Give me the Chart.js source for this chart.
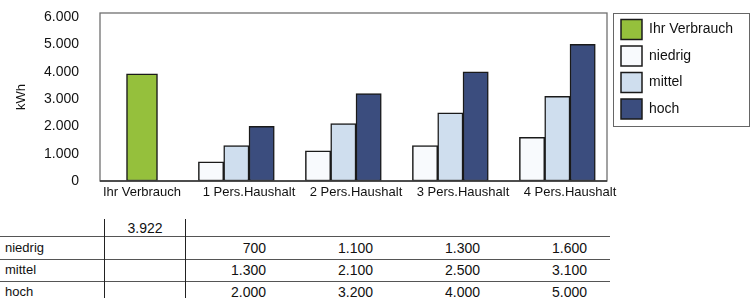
<!DOCTYPE html>
<html>
<head>
<meta charset="utf-8">
<script src="https://cdn.jsdelivr.net/npm/chart.js@4/dist/chart.umd.min.js"></script>
<style>
html,body{margin:0;padding:0;background:#fff;width:756px;height:298px;overflow:hidden;font-family:"Liberation Sans",Arial,sans-serif;}
#wrap{position:relative;width:756px;height:298px;}
#c{position:absolute;left:0;top:0;width:756px;height:200px;}
.t{position:absolute;font-size:13px;line-height:16px;height:16px;color:#111;white-space:nowrap;}
.t.num{font-size:14px;}
.hl{position:absolute;height:1px;background:#555;}
.vl{position:absolute;width:1px;background:#222;}
</style>
</head>
<body>
<div id="wrap">
  <canvas id="c" width="756" height="200"></canvas>
  <div id="tbl"></div>
</div>
<script>
// ---- data ----
const categories = ['Ihr Verbrauch', '1 Pers.Haushalt', '2 Pers.Haushalt', '3 Pers.Haushalt', '4 Pers.Haushalt'];
const ihrVerbrauch = [3922, null, null, null, null];
const niedrig = [null, 700, 1100, 1300, 1600];
const mittel = [null, 1300, 2100, 2500, 3100];
const hoch = [null, 2000, 3200, 4000, 5000];
const seriesNames = ['Ihr Verbrauch', 'niedrig', 'mittel', 'hoch'];
const yTickValues = [0, 1000, 2000, 3000, 4000, 5000, 6000];
const yUnit = 'kWh';

// ---- helpers / layout ----
const FONT = "'Liberation Sans', Arial, sans-serif";
const fmt = v => String(v).replace(/\B(?=(\d{3})+(?!\d))/g, '.');
const CAT0_PX = 42, CAT_STEP = 107;
const LEGEND_W = 129.3;

const catAxisLayout = {
  id: 'catAxisLayout',
  beforeLayout(chart) {
    const lg = chart.legend;
    if (lg && !lg._fixedW) {
      const f = lg.fit;
      lg.fit = function () { f.call(this); this.width = LEGEND_W; };
      lg._fixedW = true;
    }
  },
  afterLayout(chart) {
    const x = chart.scales.x;
    const w = x.right - x.left;
    x._valueRange = w / CAT_STEP;
    x._startValue = -CAT0_PX / CAT_STEP;
  }
};

const frames = {
  id: 'frames',
  afterDatasetsDraw(chart) {
    const ctx = chart.ctx, ca = chart.chartArea;
    ctx.save();
    ctx.strokeStyle = '#707070';
    ctx.lineWidth = 1.3;
    ctx.strokeRect(ca.left, ca.top, ca.right - ca.left, ca.bottom - ca.top);
    ctx.strokeStyle = '#333';
    ctx.lineWidth = 1.6;
    ctx.beginPath();
    ctx.moveTo(ca.left, ca.bottom);
    ctx.lineTo(ca.right, ca.bottom);
    ctx.stroke();
    ctx.restore();
  },
  afterDraw(chart) {
    const lg = chart.legend;
    const hb = lg && lg.legendHitBoxes;
    if (!hb || !hb.length) return;
    const pad = lg.options.labels.padding;
    const l = hb[0].left - 8, t = hb[0].top - pad;
    const r = lg.right + 5.2;
    const last = hb[hb.length - 1];
    const b = last.top + last.height + pad;
    const ctx = chart.ctx;
    ctx.save();
    ctx.strokeStyle = '#666';
    ctx.lineWidth = 1;
    ctx.strokeRect(Math.round(l) + 0.5, Math.round(t) + 0.5, Math.round(r - l), Math.round(b - t));
    ctx.restore();
  }
};

const barBorder = '#1a1a1a';
const chart = new Chart(document.getElementById('c'), {
  type: 'bar',
  data: {
    labels: categories,
    datasets: [
      { label: seriesNames[0], data: ihrVerbrauch, backgroundColor: '#95c03c', borderColor: barBorder, borderWidth: 1.5, borderSkipped: false, grouped: false, barThickness: 31 },
      { label: seriesNames[1], data: niedrig, backgroundColor: '#f8fafd', borderColor: barBorder, borderWidth: 1.5, borderSkipped: false, barThickness: 25.3 },
      { label: seriesNames[2], data: mittel, backgroundColor: '#cfdeee', borderColor: barBorder, borderWidth: 1.5, borderSkipped: false, barThickness: 25.3 },
      { label: seriesNames[3], data: hoch, backgroundColor: '#3b4d7e', borderColor: barBorder, borderWidth: 1.5, borderSkipped: false, barThickness: 25.3 },
      { label: '', data: [null, null, null, null, null], barThickness: 25.3 }
    ]
  },
  options: {
    responsive: false,
    animation: false,
    devicePixelRatio: 1,
    layout: { padding: { left: 0, top: 13, right: 12.2, bottom: 0 } },
    plugins: {
      legend: {
        position: 'right',
        align: 'start',
        labels: {
          boxWidth: 21, boxHeight: 20, padding: 6.5, color: '#111',
          font: { family: FONT, size: 14 },
          filter: item => item.text !== ''
        }
      },
      tooltip: { enabled: false }
    },
    scales: {
      x: {
        type: 'category',
        offset: true,
        grid: { display: false, drawTicks: false },
        border: { display: false },
        ticks: { padding: 4, autoSkip: false, maxRotation: 0, color: '#111', font: { family: FONT, size: 13 } },
        afterFit(s) { s.height = 19; s.paddingLeft = 0; s.paddingRight = 0; }
      },
      y: {
        min: 0, max: 6150, bounds: 'data',
        grid: { display: false, drawTicks: false },
        border: { display: false },
        ticks: { padding: 21, color: '#111', font: { family: FONT, size: 14 }, callback: v => fmt(v) },
        afterBuildTicks(s) { s.ticks = yTickValues.map(v => ({ value: v })); },
        title: { display: true, text: yUnit, color: '#111', font: { family: FONT, size: 13 }, padding: { top: 14, bottom: 0 } },
        afterFit(s) { s.width = 100; s.paddingTop = 0; s.paddingBottom = 0; }
      },
      gap: {
        type: 'linear', position: 'right', display: true,
        grid: { display: false, drawTicks: false }, border: { display: false }, ticks: { display: false },
        afterFit(s) { s.width = 7.5; s.paddingTop = 0; s.paddingBottom = 0; }
      }
    }
  },
  plugins: [catAxisLayout, frames]
});

// ---- data table below the chart ----
(function buildTable() {
  const tbl = document.getElementById('tbl');
  const xs = chart.scales.x;
  function text(str, opts) {
    const d = document.createElement('div');
    d.className = 't' + (opts.num ? ' num' : '');
    d.textContent = str;
    d.style.top = (opts.cy - 8) + 'px';
    if (opts.align === 'right') { d.style.right = (756 - opts.x) + 'px'; }
    else if (opts.align === 'center') { d.style.left = (opts.x - 50) + 'px'; d.style.width = '100px'; d.style.textAlign = 'center'; }
    else { d.style.left = opts.x + 'px'; }
    tbl.appendChild(d);
  }
  function line(cls, l, t, len) {
    const d = document.createElement('div');
    d.className = cls;
    d.style.left = l + 'px'; d.style.top = t + 'px';
    if (cls === 'hl') d.style.width = len + 'px'; else d.style.height = len + 'px';
    tbl.appendChild(d);
  }
  const rowY = [248, 270, 291.5];
  const headY = 227.5;
  ihrVerbrauch.forEach((v, i) => { if (v !== null) text(fmt(v), { x: xs.getPixelForValue(i) + 3, cy: headY, align: 'center', num: true }); });
  [niedrig, mittel, hoch].forEach((arr, r) => {
    text(seriesNames[r + 1], { x: 5, cy: rowY[r], align: 'left' });
    arr.forEach((v, i) => { if (v !== null) text(fmt(v), { x: xs.getPixelForValue(i) + 17, cy: rowY[r], align: 'right', num: true }); });
  });
  [236, 259, 281].forEach(y => line('hl', 0, y, 610));
  line('vl', 104, 219, 79);
  line('vl', 185, 219, 79);
})();
</script>
</body>
</html>
